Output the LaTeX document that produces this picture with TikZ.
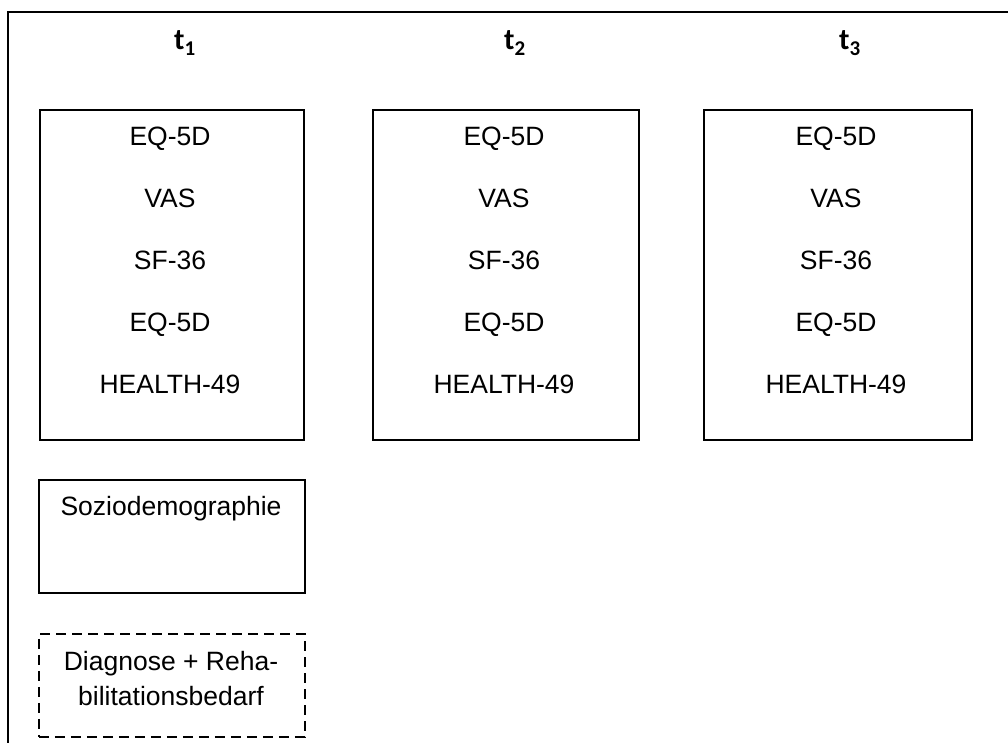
\documentclass[tikz,border=0pt]{standalone}
\usepackage{fontspec}
\setmainfont{Liberation Sans}
\newfontfamily\titlefont{Carlito}
\begin{document}
\begin{tikzpicture}[x=1pt,y=-1pt,
  frame/.style={line width=1.6pt, line cap=rect},
  mbox/.style={draw, line width=1.6pt, rectangle, inner sep=0pt, anchor=north west},
  dbox/.style={mbox, dash pattern=on 10pt off 6pt},
  ttl/.style={font=\titlefont\fontsize{30}{34}\selectfont\bfseries, inner sep=0pt, anchor=base},
  itm/.style={font=\fontsize{26.5}{30}\selectfont, inner sep=0pt, anchor=base}
]
\useasboundingbox (0,0) rectangle (1008,743);
\coordinate (ftr) at (1010,12);
\coordinate (ftl) at (8,12);
\coordinate (fbl) at (8,745);
\draw[frame] (ftr) -- (ftl) -- (fbl);

\node[ttl] (t1) at (185,50) {t\textsubscript{1}};
\node[ttl] (t2) at (515,50) {t\textsubscript{2}};
\node[ttl] (t3) at (850,50) {t\textsubscript{3}};

\foreach \n/\x/\w in {b1/39/264, b2/372/266, b3/703/268}{
  \node[mbox, minimum width=\w pt, minimum height=330pt] (\n) at (\x,109) {};
  \pgfmathsetmacro{\cx}{\x+\w/2-1}
  \node[itm] (\n-a) at (\cx,146) {EQ-5D};
  \node[itm] (\n-b) at (\cx,207.75) {VAS};
  \node[itm] (\n-c) at (\cx,269.5) {SF-36};
  \node[itm] (\n-d) at (\cx,331.25) {EQ-5D};
  \node[itm] (\n-e) at (\cx,393) {HEALTH-49};
}

\node[mbox, minimum width=266pt, minimum height=113pt] (soz) at (38,479) {};
\node[itm] (soztxt) at (171,515) {Soziodemographie};

\node[dbox, minimum width=266pt, minimum height=103pt] (diag) at (38,633) {};
\node[itm] (diag1) at (171,670) {Diagnose + Reha-};
\node[itm] (diag2) at (171,705) {bilitationsbedarf};
\end{tikzpicture}
\end{document}
